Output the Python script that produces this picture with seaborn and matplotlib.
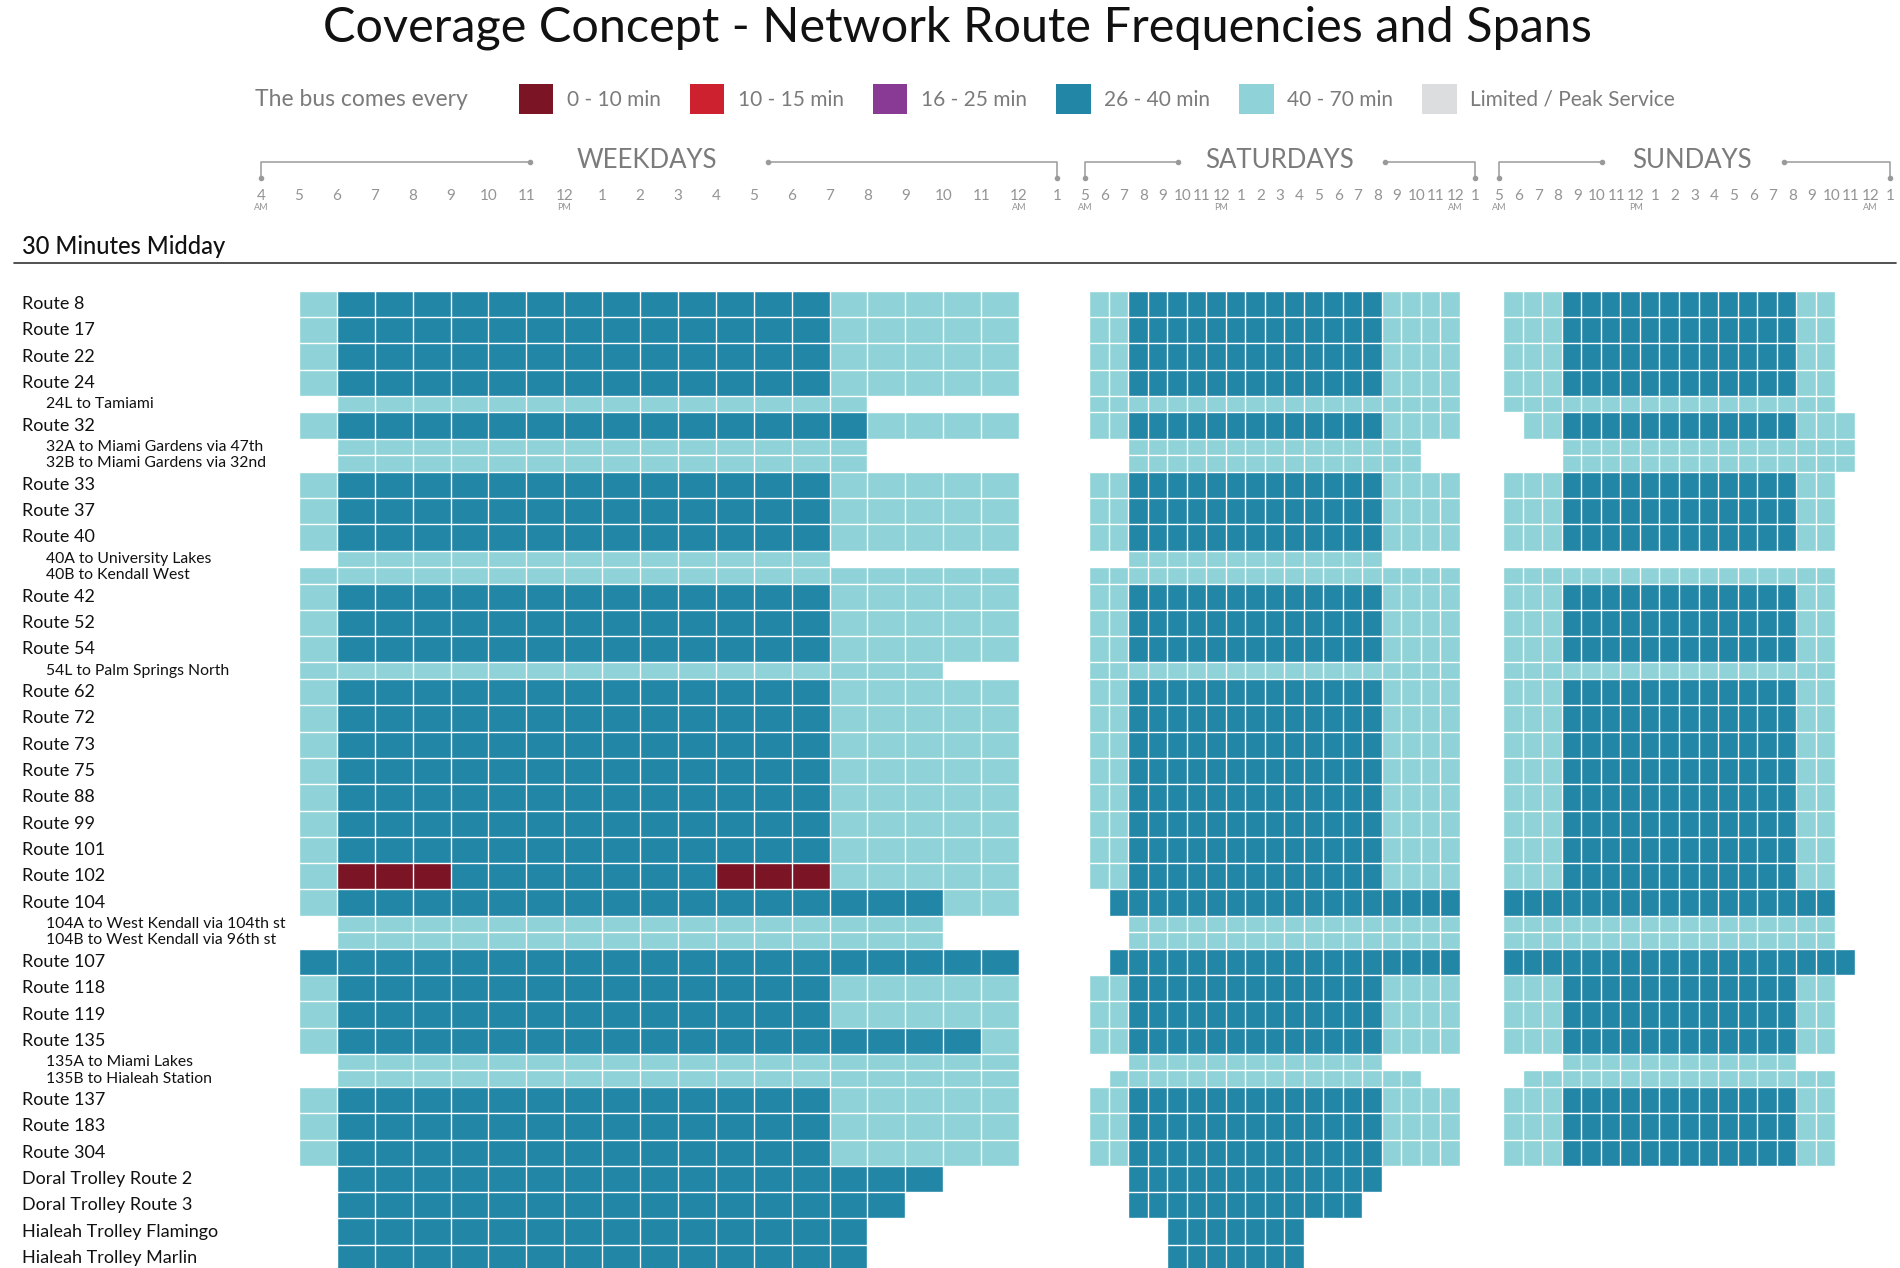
import numpy as np
import pandas as pd
import matplotlib
matplotlib.use("Agg")
import matplotlib.pyplot as plt
from matplotlib import transforms
from matplotlib.colors import ListedColormap
from matplotlib.patches import Patch
import seaborn as sns

# ---------------------------------------------------------------- data
# frequency classes, in legend order
legend_labels = ["0 - 10 min", "10 - 15 min", "16 - 25 min", "26 - 40 min", "40 - 70 min", "Limited / Peak Service"]
legend_colors = ["#7b1526", "#cd2130", "#883a94", "#2286a7", "#8fd3d8", "#dcdddf"]
# one letter per hour cell: r=0-10, R=10-15, P=16-25, D=26-40, L=40-70, G=limited, .=no service
code_of = {".": np.nan, "r": 0, "R": 1, "P": 2, "D": 3, "L": 4, "G": 5}

routes = [
    "Route 8", "Route 17", "Route 22", "Route 24", "24L to Tamiami",
    "Route 32", "32A to Miami Gardens via 47th", "32B to Miami Gardens via 32nd",
    "Route 33", "Route 37", "Route 40", "40A to University Lakes", "40B to Kendall West",
    "Route 42", "Route 52", "Route 54", "54L to Palm Springs North",
    "Route 62", "Route 72", "Route 73", "Route 75", "Route 88", "Route 99", "Route 101",
    "Route 102", "Route 104", "104A to West Kendall via 104th st", "104B to West Kendall via 96th st",
    "Route 107", "Route 118", "Route 119", "Route 135", "135A to Miami Lakes", "135B to Hialeah Station",
    "Route 137", "Route 183", "Route 304",
    "Doral Trolley Route 2", "Doral Trolley Route 3", "Hialeah Trolley Flamingo", "Hialeah Trolley Marlin",
]

# weekdays: hour cells 4AM ... 11PM-12AM (21 cells)
WK = ".LDDDDDDDDDDDDDLLLLL."
weekday = [
    WK, WK, WK, WK, "..LLLLLLLLLLLLLL.....",
    ".LDDDDDDDDDDDDDDLLLL.", "..LLLLLLLLLLLLLL.....", "..LLLLLLLLLLLLLL.....",
    WK, WK, WK, "..LLLLLLLLLLLLL......", ".LLLLLLLLLLLLLLLLLLL.",
    WK, WK, WK, ".LLLLLLLLLLLLLLLLL...",
    WK, WK, WK, WK, WK, WK, WK,
    ".LrrrDDDDDDDrrrLLLLL.", ".LDDDDDDDDDDDDDDDDLL.", "..LLLLLLLLLLLLLLLL...", "..LLLLLLLLLLLLLLLL...",
    ".DDDDDDDDDDDDDDDDDDD.", WK, WK, ".LDDDDDDDDDDDDDDDDDL.", "..LLLLLLLLLLLLLLLLLL.", "..LLLLLLLLLLLLLLLLLL.",
    WK, WK, WK,
    "..DDDDDDDDDDDDDDDD...", "..DDDDDDDDDDDDDDD....", "..DDDDDDDDDDDDDD.....", "..DDDDDDDDDDDDDD.....",
]

# saturdays: hour cells 5AM ... 11PM-12AM (20 cells)
SA = "LLDDDDDDDDDDDDDLLLL."
saturday = [
    SA, SA, SA, SA, "LLLLLLLLLLLLLLLLLLL.",
    SA, "..LLLLLLLLLLLLLLL...", "..LLLLLLLLLLLLLLL...",
    SA, SA, SA, "..LLLLLLLLLLLLL.....", "LLLLLLLLLLLLLLLLLLL.",
    SA, SA, SA, "LLLLLLLLLLLLLLLLLLL.",
    SA, SA, SA, SA, SA, SA, SA,
    SA, ".DDDDDDDDDDDDDDDDDD.", "..LLLLLLLLLLLLLLLLL.", "..LLLLLLLLLLLLLLLLL.",
    ".DDDDDDDDDDDDDDDDDD.", SA, SA, SA, "..LLLLLLLLLLLLL.....", ".LLLLLLLLLLLLLLLL...",
    SA, SA, SA,
    "..DDDDDDDDDDDDD.....", "..DDDDDDDDDDDD......", "....DDDDDDD.........", "....DDDDDDD.........",
]

# sundays: hour cells 5AM ... 11PM-12AM (20 cells)
SU = "LLLDDDDDDDDDDDDLL..."
NONE = "...................."
sunday = [
    SU, SU, SU, SU, "LLLLLLLLLLLLLLLLL...",
    ".LLDDDDDDDDDDDDLLL..", "...LLLLLLLLLLLLLLL..", "...LLLLLLLLLLLLLLL..",
    SU, SU, SU, NONE, "LLLLLLLLLLLLLLLLL...",
    SU, SU, SU, "LLLLLLLLLLLLLLLLL...",
    SU, SU, SU, SU, SU, SU, SU,
    SU, "DDDDDDDDDDDDDDDDD...", "LLLLLLLLLLLLLLLLL...", "LLLLLLLLLLLLLLLLL...",
    "DDDDDDDDDDDDDDDDDD..", SU, SU, SU, "...LLLLLLLLLLLL.....", ".LLLLLLLLLLLLLLLL...",
    SU, SU, SU,
    NONE, NONE, NONE, NONE,
]

wk_hours = ["4", "5", "6", "7", "8", "9", "10", "11", "12", "1", "2", "3", "4", "5", "6", "7", "8", "9", "10", "11", "12", "1"]
we_hours = ["5", "6", "7", "8", "9", "10", "11", "12", "1", "2", "3", "4", "5", "6", "7", "8", "9", "10", "11", "12", "1"]
wk_ampm = {0: "AM", 8: "PM", 20: "AM"}
we_ampm = {0: "AM", 7: "PM", 19: "AM"}

# ---------------------------------------------------------------- layout
W, H = 1900, 1268
sns.set_theme(style="white")
plt.rcParams["font.family"] = ["Lato", "DejaVu Sans"]

fig = plt.figure(figsize=(W / 100, H / 100), dpi=100)
fig.patch.set_facecolor("white")


def add_px_axes(left, top, right, bottom):
    return fig.add_axes([left / W, 1 - bottom / H, (right - left) / W, (bottom - top) / H])


is_branch = [r[0].isdigit() for r in routes]
heights = np.array([5 if b else 8 for b in is_branch])
unit = 3.29
grid_top = 290.7
grid_bottom = grid_top + heights.sum() * unit
bounds = np.concatenate([[0], np.cumsum(heights)])
centers = (bounds[:-1] + bounds[1:]) / 2

cmap = ListedColormap(legend_colors)

# (rows, left px, right px, hour labels, am/pm, header, text col, seg end, seg start, label shift px)
panels = [
    (weekday, 261, 1057, wk_hours, wk_ampm, "WEEKDAYS", 10.17, 7.1, 13.37, 0),
    (saturday, 1089, 1479, we_hours, we_ampm, "SATURDAYS", 10.0, 4.76, 15.37, -4),
    (sunday, 1503, 1894, we_hours, we_ampm, "SUNDAYS", 9.89, 5.27, 14.6, -4),
]

tick_col = "#949494"
axes = []
for rows, left, right, hours, ampm, head, tcol, seg_end, seg_start, shift in panels:
    mat = np.array([[code_of[c] for c in s] for s in rows], dtype=float)
    assert mat.shape == (len(routes), len(rows[0]))
    expanded = pd.DataFrame(np.repeat(mat, heights, axis=0))
    ncol = mat.shape[1]

    ax = add_px_axes(left, grid_top, right, grid_bottom)
    sns.heatmap(expanded, ax=ax, cmap=cmap, vmin=-0.5, vmax=5.5, cbar=False,
                xticklabels=False, yticklabels=False, linewidths=0)
    for x in range(ncol + 1):
        ax.axvline(x, color="white", lw=1.0)
    for y in bounds:
        ax.axhline(y, color="white", lw=1.0)
    ax.set_axis_off()
    axes.append(ax)

    off = transforms.ScaledTranslation(shift / 100, 0, fig.dpi_scale_trans)
    tr = transforms.blended_transform_factory(ax.transData, fig.transFigure) + off
    for i, lab in enumerate(hours):
        ax.text(i, 1 - 196 / H, lab, transform=tr, ha="center", va="center",
                fontsize=11, color=tick_col)
        if i in ampm:
            ax.text(i, 1 - 207 / H, ampm[i], transform=tr, ha="center", va="center",
                    fontsize=6.5, color=tick_col)
    # bracket header
    y_line, y_dot = 1 - 161.5 / H, 1 - 177.5 / H
    gcol = "#9a9a9a"
    ax.plot([0, 0, seg_end], [y_dot, y_line, y_line], transform=tr, color=gcol, lw=1.1, clip_on=False)
    ax.plot([seg_start, ncol, ncol], [y_line, y_line, y_dot], transform=tr, color=gcol, lw=1.1, clip_on=False)
    ax.plot([0, seg_end, seg_start, ncol], [y_dot, y_line, y_line, y_dot], transform=tr, ls="none",
            marker="o", ms=3, color=gcol, clip_on=False)
    ax.text(tcol, 1 - 160 / H, head, transform=tr, ha="center", va="center",
            fontsize=18.5, color="#7b7b7b")

# route labels
ax0 = axes[0]
ltr = transforms.blended_transform_factory(fig.transFigure, ax0.transData)
for name, b, yc in zip(routes, is_branch, centers):
    if b:
        ax0.text(46 / W, yc, name, transform=ltr, ha="left", va="center", fontsize=11.3, color="#111111")
    else:
        ax0.text(22 / W, yc, name, transform=ltr, ha="left", va="center", fontsize=13, color="#111111")

# titles
fig.text(957 / W, 1 - 28 / H, "Coverage Concept - Network Route Frequencies and Spans",
         ha="center", va="center", fontsize=35, color="#111111")
fig.text(22 / W, 1 - 247 / H, "30 Minutes Midday", ha="left", va="center", fontsize=17,
         color="#111111", fontweight="medium")
fig.add_artist(plt.Line2D([14 / W, 1896 / W], [1 - 263 / H, 1 - 263 / H], color="#333333", lw=1.2))

# legend
fig.text(255 / W, 1 - 99 / H, "The bus comes every", ha="left", va="center", fontsize=16.5, color="#7b7b7b")
handles = [Patch(facecolor=c, edgecolor="none", label=l) for c, l in zip(legend_colors, legend_labels)]
fig.legend(handles=handles, loc="center left", bbox_to_anchor=(519 / W, 1 - 99 / H), ncol=6,
           frameon=False, fontsize=15, labelcolor="#7b7b7b", handlelength=1.65, handleheight=1.9,
           handletextpad=0.65, columnspacing=1.4, borderpad=0, borderaxespad=0)

fig.savefig("out.png", dpi=100, facecolor="white")
